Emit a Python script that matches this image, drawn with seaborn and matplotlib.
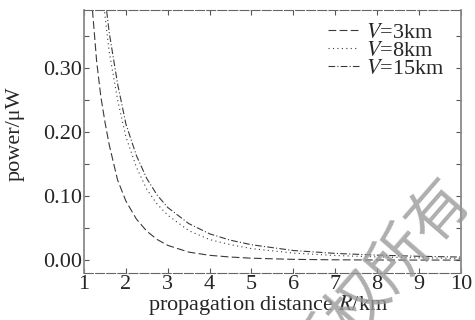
import matplotlib
matplotlib.use("Agg")
import matplotlib.pyplot as plt
import seaborn as sns
from matplotlib.ticker import MultipleLocator

# values (power in uW vs distance in km)
distance_km = [1.0, 1.1, 1.2, 1.3, 1.4, 1.5, 1.6, 1.8, 2.0, 2.25, 2.5, 2.75,
               3.0, 3.5, 4.0, 4.5, 5.0, 6.0, 7.0, 8.0, 9.0, 10.0]
power_v3 = [0.60, 0.48, 0.39, 0.31, 0.255, 0.215, 0.18, 0.125, 0.092, 0.064,
            0.045, 0.032, 0.023, 0.0125, 0.0075, 0.0048, 0.003, 0.0012,
            0.0005, 0.0002, 0.0001, 0.00005]
power_v8 = [0.88, 0.73, 0.61, 0.52, 0.45, 0.38, 0.325, 0.25, 0.192, 0.145,
            0.11, 0.087, 0.07, 0.046, 0.032, 0.024, 0.018, 0.011, 0.0072,
            0.005, 0.0036, 0.0027]
power_v15 = [0.93, 0.77, 0.64, 0.55, 0.47, 0.41, 0.355, 0.275, 0.212, 0.163,
             0.127, 0.101, 0.082, 0.057, 0.041, 0.031, 0.024, 0.015, 0.0105,
             0.0078, 0.006, 0.0048]
labels = ["$V$=3km", "$V$=8km", "$V$=15km"]

sns.set_theme(style="ticks")
plt.rcParams["font.family"] = ["Liberation Serif", "DejaVu Serif"]
plt.rcParams["mathtext.fontset"] = "stix"

fig = plt.figure(figsize=(4.75, 3.2), dpi=100)
ax = fig.add_axes([0.177, 0.147, 0.793, 0.822])

styles = [(0, (7, 3)), (0, (1, 3)), (0, (6, 2, 1, 2))]
for power, label, ls in zip([power_v3, power_v8, power_v15], labels, styles):
    sns.lineplot(x=distance_km, y=power, ax=ax, color="#3a3a3a",
                 linewidth=0.8, linestyle=ls, label=label)

ax.set_xlim(1, 10)
ax.set_ylim(-0.02, 0.39)
ax.xaxis.set_major_locator(MultipleLocator(1))
ax.yaxis.set_major_locator(MultipleLocator(0.1))
ax.yaxis.set_minor_locator(MultipleLocator(0.05))
ax.yaxis.set_major_formatter(plt.FormatStrFormatter("%.2f"))
ax.tick_params(which="both", direction="in", top=True, right=True,
               length=3.5, width=0.8, color="#555555", labelsize=16, pad=1.5)

for side in ["left", "right"]:
    ax.spines[side].set_color("#8a8a8a")
    ax.spines[side].set_linewidth(1.3)
for side in ["top", "bottom"]:
    ax.spines[side].set_color("#666666")
    ax.spines[side].set_linewidth(0.8)
    ax.spines[side].set_linestyle((0, (8, 2)))

ax.set_xlabel("propagation distance $R$/km", fontsize=16)
ax.xaxis.set_label_coords(0.488, -0.078)
ax.set_ylabel("power/\u03bcW", fontsize=16)
ax.yaxis.set_label_coords(-0.158, 0.53)

ax.legend(loc="upper right", bbox_to_anchor=(0.997, 1.012), frameon=False,
          fontsize=16, handlelength=1.4, handletextpad=0.3,
          labelspacing=-0.12, borderpad=0.2)

# copyright watermark of the scan
fig.text(0.798, 0.123, "版权所有", fontsize=44, rotation=49, color="#9a9a9a",
         alpha=0.8, ha="center", va="center",
         family=["Noto Sans CJK SC", "DejaVu Sans"], zorder=10)

fig.savefig("out.png", dpi=100)
